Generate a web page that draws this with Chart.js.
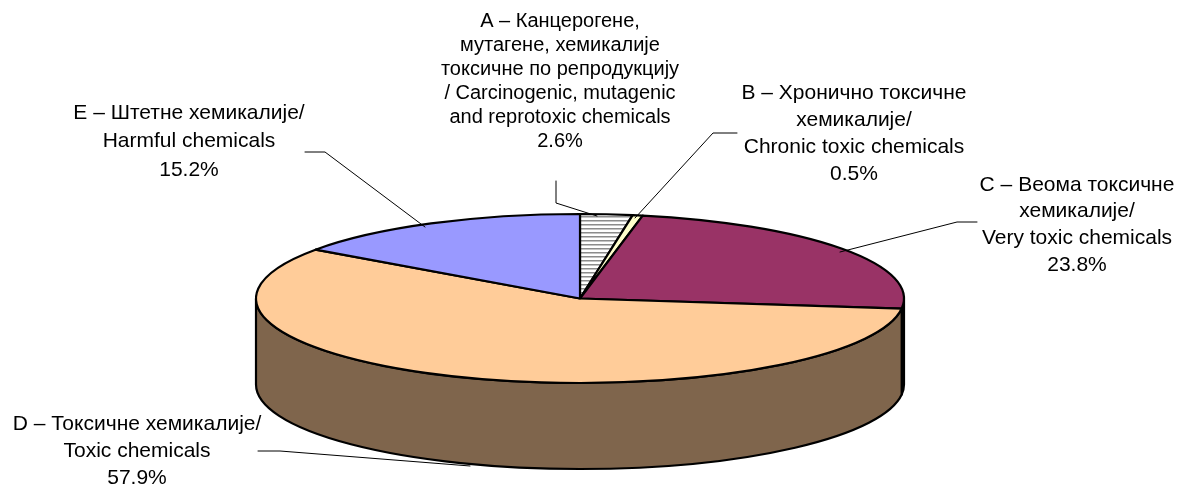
<!DOCTYPE html>
<html>
<head>
<meta charset="utf-8">
<script src="https://cdn.jsdelivr.net/npm/chart.js@4.4.1/dist/chart.umd.min.js"></script>
<style>
  html, body { margin: 0; padding: 0; background: #ffffff; }
  #wrap { width: 1178px; height: 486px; position: relative; }
</style>
</head>
<body>
<div id="wrap"><canvas id="c" width="1178" height="486"></canvas></div>
<script>
// ---- data ----
const categories = ['A', 'B', 'C', 'D', 'E'];
const labelLines = [
  ['А – Канцерогене,', 'мутагене, хемикалије', 'токсичне по репродукцију', '/ Carcinogenic, mutagenic', 'and reprotoxic chemicals'],
  ['В – Хронично токсичне', 'хемикалије/', 'Chronic toxic chemicals'],
  ['С – Веома токсичне', 'хемикалије/', 'Very toxic chemicals'],
  ['D – Токсичне хемикалије/', 'Toxic chemicals'],
  ['Е – Штетне хемикалије/', 'Harmful chemicals']
];
const values = [2.6, 0.5, 23.8, 57.9, 15.2];

// ---- styles / layout ----
const topColors = [null, '#FFFFCC', '#993366', '#FFCC99', '#9999FF'];
const sideColors = ['#808080', '#80806A', '#4D1A33', '#7F654C', '#4D4D80'];
const geo = { cx: 580, cy: 298.5, rx: 324, ry: 84.5, depth: 86 };
const labelLayout = [
  { x: 560, y: 21, lh: 24, size: 20, leader: [[556, 181], [556, 203], [597, 216]] },
  { x: 854, y: 93, lh: 27, size: 21, leader: [[737, 133], [713, 133], [635, 218]] },
  { x: 1077, y: 185, lh: 26.7, size: 21, leader: [[977, 222], [957, 222], [840, 252]] },
  { x: 137, y: 424, lh: 27, size: 21, leader: [[258, 451], [280, 451], [470, 466]] },
  { x: 189, y: 113, lh: 28.5, size: 21, leader: [[305, 152], [325, 152], [425, 227]] }
];

function hatchPattern(ctx) {
  const p = document.createElement('canvas');
  p.width = 8; p.height = 4;
  const g = p.getContext('2d');
  g.fillStyle = '#ffffff'; g.fillRect(0, 0, 8, 4);
  g.fillStyle = '#8c8c8c'; g.fillRect(0, 0, 8, 1);
  g.fillStyle = '#c4c4c4'; g.fillRect(0, 1, 8, 1);
  return ctx.createPattern(p, 'repeat');
}

const pie3d = {
  id: 'pie3d',
  beforeDatasetsDraw(chart) {
    const ctx = chart.ctx;
    const meta = chart.getDatasetMeta(0);
    const { cx, cy, rx, ry, depth } = geo;
    const arcs = meta.data.map(a => ({ s: a.startAngle, e: a.endAngle }));
    ctx.save();
    ctx.lineJoin = 'round';
    ctx.lineCap = 'round';
    ctx.strokeStyle = '#000000';
    ctx.lineWidth = 2.2;
    // side walls: the part of each slice that lies in the front half (0..PI)
    arcs.forEach((a, i) => {
      const s = a.s, e = a.e;
      const pieces = [];
      const base = Math.floor(s / (2 * Math.PI)) * 2 * Math.PI;
      for (let k = -1; k <= 1; k++) {
        const lo = base + k * 2 * Math.PI, hi = lo + Math.PI;
        const ps = Math.max(s, lo), pe = Math.min(e, hi);
        if (pe > ps + 1e-6) pieces.push([ps, pe]);
      }
      pieces.forEach(([ps, pe]) => {
        ctx.beginPath();
        ctx.ellipse(cx, cy, rx, ry, 0, ps, pe, false);
        ctx.lineTo(cx + rx * Math.cos(pe), cy + ry * Math.sin(pe) + depth);
        ctx.ellipse(cx, cy + depth, rx, ry, 0, pe, ps, true);
        ctx.closePath();
        ctx.fillStyle = sideColors[i];
        ctx.fill();
        ctx.stroke();
      });
    });
    // top faces
    const hatch = hatchPattern(ctx);
    arcs.forEach((a, i) => {
      ctx.beginPath();
      ctx.moveTo(cx, cy);
      ctx.ellipse(cx, cy, rx, ry, 0, a.s, a.e, false);
      ctx.closePath();
      ctx.fillStyle = topColors[i] || hatch;
      ctx.fill();
      ctx.stroke();
    });
    // labels + leader lines
    ctx.lineWidth = 1;
    ctx.strokeStyle = '#000000';
    labelLayout.forEach((L, i) => {
      ctx.beginPath();
      L.leader.forEach((p, j) => j ? ctx.lineTo(p[0], p[1]) : ctx.moveTo(p[0], p[1]));
      ctx.stroke();
      const lines = labelLines[i].concat([values[i].toFixed(1) + '%']);
      ctx.fillStyle = '#000000';
      ctx.font = L.size + 'px "Liberation Sans", Arial, sans-serif';
      ctx.textAlign = 'center';
      ctx.textBaseline = 'middle';
      lines.forEach((t, j) => ctx.fillText(t, L.x, L.y + j * L.lh));
    });
    ctx.restore();
    return false;
  }
};

new Chart(document.getElementById('c'), {
  type: 'pie',
  data: {
    labels: categories,
    datasets: [{ data: values, backgroundColor: sideColors, borderWidth: 0 }]
  },
  options: {
    responsive: false,
    animation: false,
    events: [],
    plugins: { legend: { display: false }, tooltip: { enabled: false } }
  },
  plugins: [pie3d]
});
</script>
</body>
</html>
